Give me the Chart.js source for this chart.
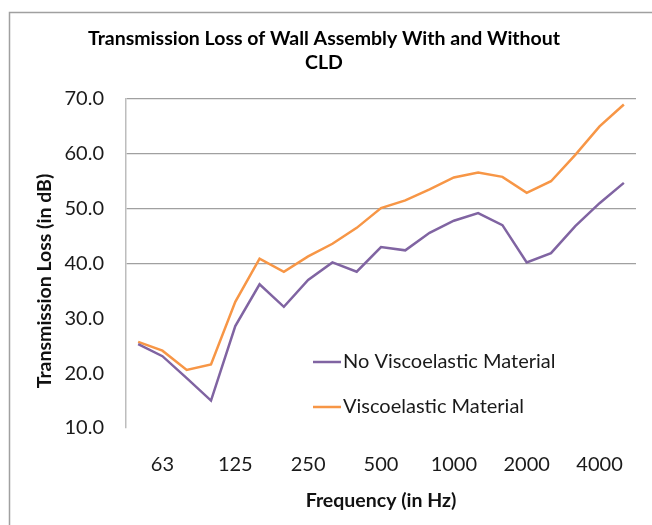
<!DOCTYPE html>
<html>
<head>
<meta charset="utf-8">
<script src="https://cdn.jsdelivr.net/npm/chart.js@4.4.1/dist/chart.umd.min.js"></script>
<style>
  html, body { margin: 0; padding: 0; background: #ffffff; }
  #wrap { width: 652px; height: 525px; }
</style>
</head>
<body>
<div id="wrap"><canvas id="c" width="652" height="525"></canvas></div>
<script>
const categories = ['50','63','80','100','125','160','200','250','315','400','500','630','800','1000','1250','1600','2000','2500','3150','4000','5000'];
const tickLabels = ['63','125','250','500','1000','2000','4000'];
const noViscoelastic = [25.3, 23.1, 19.1, 15.0, 28.6, 36.2, 32.1, 37.0, 40.2, 38.5, 43.0, 42.4, 45.6, 47.8, 49.2, 47.0, 40.2, 41.9, 46.8, 51.0, 54.7];
const viscoelastic   = [25.7, 24.1, 20.6, 21.6, 33.0, 40.9, 38.5, 41.3, 43.6, 46.5, 50.1, 51.5, 53.5, 55.7, 56.6, 55.8, 52.9, 55.0, 59.8, 65.0, 69.0];
const seriesNames = ['No Viscoelastic Material', 'Viscoelastic Material'];
const titleLines = ['Transmission Loss of Wall Assembly With and Without', 'CLD'];
const xTitle = 'Frequency (in Hz)';
const yTitle = 'Transmission Loss (in dB)';

const FONT = "Lato, 'Liberation Sans', sans-serif";

const decorPlugin = {
  id: 'decor',
  beforeDraw(chart) {
    const ctx = chart.ctx;
    ctx.save();
    ctx.fillStyle = '#ffffff';
    ctx.fillRect(0, 0, chart.width, chart.height);
    ctx.strokeStyle = '#a0a0a0';
    ctx.lineWidth = 1.5;
    ctx.beginPath();
    ctx.moveTo(9.5, chart.height);
    ctx.lineTo(9.5, 12.5);
    ctx.lineTo(chart.width, 12.5);
    ctx.stroke();
    ctx.restore();
  },
  afterDraw(chart) {
    const ctx = chart.ctx;
    const area = chart.chartArea;
    ctx.save();
    ctx.fillStyle = '#111111';
    ctx.font = 'bold 19.5px ' + FONT;
    ctx.textAlign = 'center';
    ctx.textBaseline = 'middle';
    ctx.fillText(xTitle, (area.left + area.right) / 2, 501);
    ctx.translate(45, 281);
    ctx.rotate(-Math.PI / 2);
    ctx.fillText(yTitle, 0, 0);
    ctx.restore();

    ctx.save();
    ctx.font = '20px ' + FONT;
    ctx.textAlign = 'left';
    ctx.textBaseline = 'middle';
    const rows = [362, 407];
    chart.data.datasets.forEach((ds, i) => {
      const y = rows[i];
      ctx.strokeStyle = ds.borderColor;
      ctx.lineWidth = 2.5;
      ctx.beginPath();
      ctx.moveTo(313, y);
      ctx.lineTo(341, y);
      ctx.stroke();
      ctx.fillStyle = '#1a1a1a';
      ctx.fillText(ds.label, 343, y);
    });
    ctx.restore();
  }
};

new Chart(document.getElementById('c'), {
  type: 'line',
  data: {
    labels: categories,
    datasets: [
      { label: seriesNames[0], data: noViscoelastic, borderColor: '#8064A2', backgroundColor: '#8064A2', borderWidth: 2.5, pointRadius: 0, tension: 0, fill: false },
      { label: seriesNames[1], data: viscoelastic, borderColor: '#F79646', backgroundColor: '#F79646', borderWidth: 2.5, pointRadius: 0, tension: 0, fill: false }
    ]
  },
  options: {
    responsive: false,
    animation: false,
    devicePixelRatio: 1,
    layout: { padding: { left: 12, right: 16, top: 0, bottom: 0 } },
    plugins: {
      legend: { display: false },
      tooltip: { enabled: false },
      title: {
        display: true,
        text: titleLines,
        color: '#000000',
        font: { family: FONT, size: 19.5, weight: 'bold', lineHeight: '23.5px' },
        padding: { top: 27, bottom: 25 }
      }
    },
    scales: {
      x: {
        offset: true,
        grid: { display: false, drawTicks: false },
        border: { display: false },
        ticks: {
          autoSkip: false,
          maxRotation: 0,
          minRotation: 0,
          padding: 25,
          color: '#1a1a1a',
          font: { family: FONT, size: 20 },
          callback: function(v, i) {
            const l = categories[i];
            return tickLabels.includes(l) ? l : '';
          }
        },
        afterFit: function(scale) { scale.height = 97; }
      },
      y: {
        min: 10,
        max: 70,
        grid: {
          drawTicks: false,
          color: function(ctx) { return (ctx.tick && ctx.tick.value >= 40) ? '#a0a0a0' : 'rgba(0,0,0,0)'; },
          lineWidth: 1.2
        },
        border: { display: true, color: '#bdbdbd', width: 1.5 },
        ticks: {
          stepSize: 10,
          padding: 22,
          color: '#1a1a1a',
          font: { family: FONT, size: 20 },
          callback: function(v) { return Number(v).toFixed(1); }
        },
        afterFit: function(scale) { scale.width = 114; }
      }
    }
  },
  plugins: [decorPlugin]
});
</script>
</body>
</html>
